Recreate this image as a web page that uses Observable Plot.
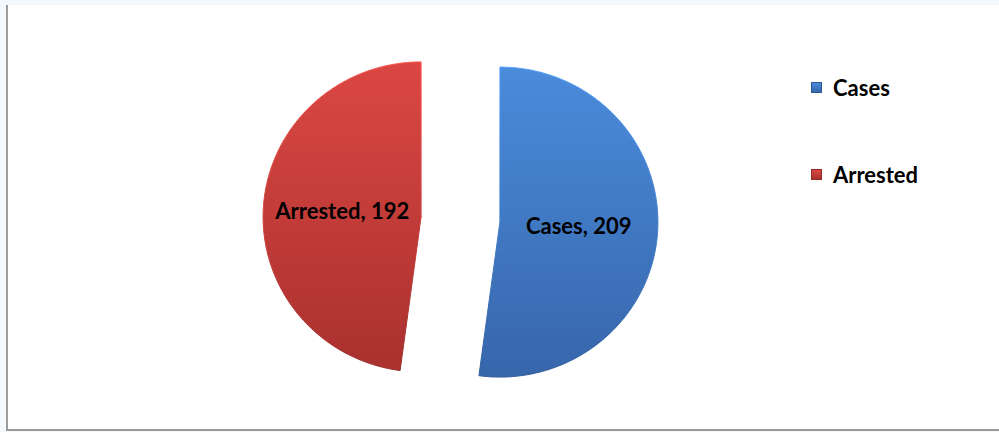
<!DOCTYPE html>
<html>
<head>
<meta charset="utf-8">
<script src="https://cdn.jsdelivr.net/npm/d3@7"></script>
<script src="https://cdn.jsdelivr.net/npm/@observablehq/plot@0.6"></script>
<style>
  html, body { margin: 0; padding: 0; }
  body { width: 999px; height: 432px; background: #f4f9fe; position: relative; overflow: hidden; font-family: Lato, "Open Sans", sans-serif; }
  #frame { position: absolute; left: 6px; top: 5px; width: 991px; height: 424px; background: #fff; border-left: 2px solid #9b9b9b; border-bottom: 2px solid #9b9b9b; }
  #chart { position: absolute; left: 0; top: 0; }
  #legend { position: absolute; left: 811px; top: 74px; }
  .item { position: absolute; left: 0; display: flex; align-items: center; white-space: nowrap; font-weight: 700; font-size: 22px; color: #000; }
  .sw { width: 11px; height: 11px; margin-right: 11px; box-sizing: border-box; }
</style>
</head>
<body>
<div id="frame"></div>
<div id="chart"></div>
<div id="legend"></div>
<script>
// ---- data ----
const categories = ["Cases", "Arrested"];
const values = [209, 192];

// ---- styles ----
const gradients = {
  Cases: ["#4a8bdb", "#3766ab"],
  Arrested: ["#db4743", "#a9312e"]
};
const W = 999, H = 432;
const RX = 158, RY = 155; // pie radii in px
const CX = 460, CY = 219; // pie centre in px
const explode = 0.25;     // explosion in radius units
const labelDist = 0.5;

const data = categories.map((name, i) => ({name, value: values[i]}));
const arcs = d3.pie().sort(null).value(d => d.value)(data);

// build outline points for each slice (radius units, y downward)
const points = [];
const labels = [];
arcs.forEach(a => {
  const mid = (a.startAngle + a.endAngle) / 2;
  const ox = explode * Math.sin(mid), oy = -explode * Math.cos(mid);
  points.push({name: a.data.name, x: ox, y: oy});
  const n = 200;
  for (let k = 0; k <= n; k++) {
    const t = a.startAngle + (a.endAngle - a.startAngle) * k / n;
    points.push({name: a.data.name, x: ox + Math.sin(t), y: oy - Math.cos(t)});
  }
  points.push({name: a.data.name, x: ox, y: oy});
  labels.push({
    name: a.data.name,
    text: `${a.data.name}, ${a.data.value}`,
    x: ox + labelDist * Math.sin(mid),
    y: oy - labelDist * Math.cos(mid)
  });
});

const slices = categories.map(name =>
  Plot.line(points.filter(p => p.name === name), {
    x: "x", y: "y",
    fill: `url(#grad-${name})`,
    stroke: `url(#edge-${name})`,
    strokeWidth: 1,
    curve: "linear"
  })
);

const chart = Plot.plot({
  width: W,
  height: H,
  margin: 0,
  style: {background: "transparent", overflow: "visible"},
  x: {domain: [-CX / RX, (W - CX) / RX], range: [0, W], axis: null},
  y: {domain: [-CY / RY, (H - CY) / RY], range: [0, H], axis: null},
  marks: [
    ...slices,
    Plot.text(labels, {
      x: "x", y: "y", text: "text",
      fontSize: 22, fontWeight: 700, fill: "#000",
      fontFamily: "Lato, 'Open Sans', sans-serif"
    })
  ]
});

// gradient definitions
const ns = "http://www.w3.org/2000/svg";
const defs = document.createElementNS(ns, "defs");
for (const name of categories) {
  const [c0, c1] = gradients[name];
  const g = document.createElementNS(ns, "linearGradient");
  g.setAttribute("id", `grad-${name}`);
  g.setAttribute("x1", "0"); g.setAttribute("y1", "0");
  g.setAttribute("x2", "0"); g.setAttribute("y2", "1");
  g.innerHTML = `<stop offset="0" stop-color="${c0}"/><stop offset="1" stop-color="${c1}"/>`;
  defs.appendChild(g);
  const e = document.createElementNS(ns, "linearGradient");
  e.setAttribute("id", `edge-${name}`);
  e.setAttribute("x1", "0"); e.setAttribute("y1", "0");
  e.setAttribute("x2", "0"); e.setAttribute("y2", "1");
  e.innerHTML = `<stop offset="0" stop-color="${d3.color(c0).brighter(0.4)}"/><stop offset="1" stop-color="${d3.color(c1).darker(0.3)}"/>`;
  defs.appendChild(e);
}
chart.insertBefore(defs, chart.firstChild);
document.getElementById("chart").appendChild(chart);

// legend
const legend = document.getElementById("legend");
categories.forEach((name, i) => {
  const [c0, c1] = gradients[name];
  const item = document.createElement("div");
  item.className = "item";
  item.style.top = (i * 87) + "px";
  const sw = document.createElement("span");
  sw.className = "sw";
  sw.style.background = `linear-gradient(${c0}, ${c1})`;
  sw.style.border = `1px solid ${d3.color(c1).darker(0.4)}`;
  const tx = document.createElement("span");
  tx.textContent = name;
  item.appendChild(sw);
  item.appendChild(tx);
  legend.appendChild(item);
});
</script>
</body>
</html>
